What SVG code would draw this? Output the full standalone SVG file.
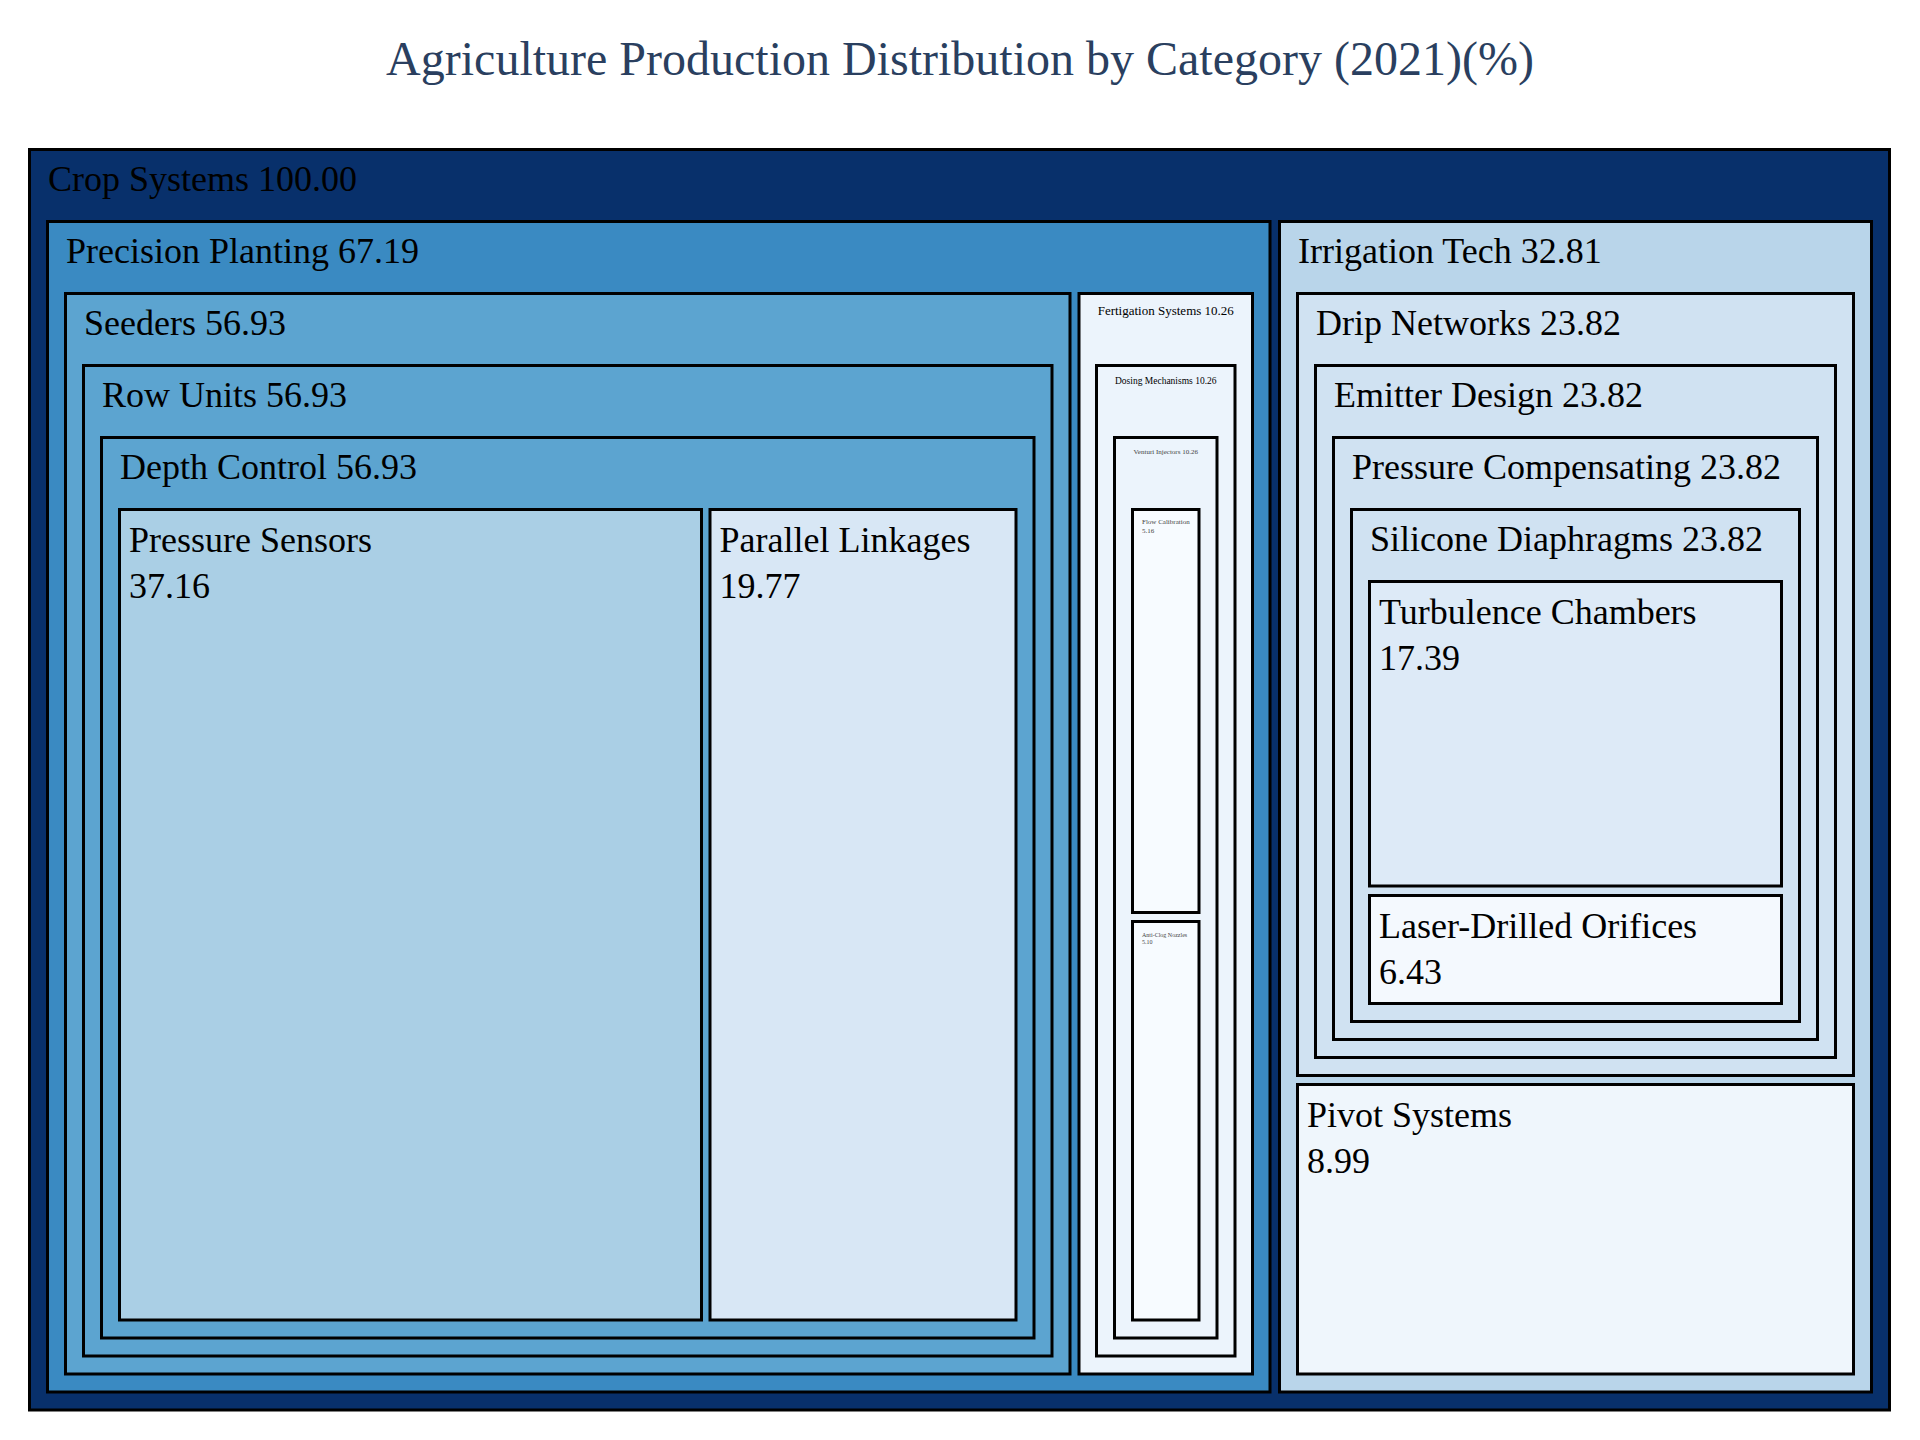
<svg xmlns="http://www.w3.org/2000/svg" width="1920" height="1440" viewBox="0 0 1920 1440">
<style>
  rect.n { stroke: #000; stroke-width: 3; }
  text { font-family: "Liberation Serif", "Times New Roman", serif; fill: #000; }
  .t36 { font-size: 36px; }
  .t13 { font-size: 13px; text-anchor: middle; }
  .t9 { font-size: 9.5px; text-anchor: middle; }
  .t7 { font-size: 7px; fill: #444; }
  .t7c { font-size: 7px; fill: #444; text-anchor: middle; }
  .t6 { font-size: 6px; fill: #444; }
  .title { font-size: 48px; fill: #2a3f5f; text-anchor: middle; }
</style>
<rect x="0" y="0" width="1920" height="1440" fill="#ffffff"/>
<text class="title" x="960" y="74.5">Agriculture Production Distribution by Category (2021)(%)</text>

<g id="crop-systems">
  <rect class="n" x="29.5" y="149.5" width="1860" height="1260.5" fill="#08306b"/>
  <text class="t36" x="48" y="191">Crop Systems 100.00</text>
</g>
<g id="precision-planting">
  <rect class="n" x="47.5" y="221.5" width="1222.5" height="1170.5" fill="#3a8ac2"/>
  <text class="t36" x="66" y="263">Precision Planting 67.19</text>
</g>
<g id="seeders">
  <rect class="n" x="65.5" y="293.5" width="1004.5" height="1080.5" fill="#5ca4d0"/>
  <text class="t36" x="84" y="335">Seeders 56.93</text>
</g>
<g id="row-units">
  <rect class="n" x="83.5" y="365.5" width="968.5" height="990.5" fill="#5ca4d0"/>
  <text class="t36" x="102" y="407">Row Units 56.93</text>
</g>
<g id="depth-control">
  <rect class="n" x="101.5" y="437.5" width="932.5" height="900.5" fill="#5ca4d0"/>
  <text class="t36" x="120" y="479">Depth Control 56.93</text>
</g>
<g id="pressure-sensors">
  <rect class="n" x="119.5" y="509.5" width="582" height="810.5" fill="#aacfe5"/>
  <text class="t36" x="129" y="551.5">Pressure Sensors</text>
  <text class="t36" x="129" y="598">37.16</text>
</g>
<g id="parallel-linkages">
  <rect class="n" x="710" y="509.5" width="306" height="810.5" fill="#d8e7f5"/>
  <text class="t36" x="719.5" y="551.5">Parallel Linkages</text>
  <text class="t36" x="719.5" y="598">19.77</text>
</g>

<g id="fertigation-systems">
  <rect class="n" x="1079" y="293.5" width="173.5" height="1080.5" fill="#ecf4fc"/>
  <text class="t13" x="1165.75" y="314.5">Fertigation Systems 10.26</text>
</g>
<g id="dosing-mechanisms">
  <rect class="n" x="1096.5" y="365.5" width="138.5" height="990.5" fill="#ecf4fc"/>
  <text class="t9" x="1165.75" y="384">Dosing Mechanisms 10.26</text>
</g>
<g id="venturi-injectors">
  <rect class="n" x="1114.5" y="437.5" width="102.5" height="900.5" fill="#ecf4fc"/>
  <text class="t7c" x="1165.75" y="454">Venturi Injectors 10.26</text>
</g>
<g id="flow-calibration">
  <rect class="n" x="1132.5" y="509.5" width="66.5" height="403" fill="#f7fbff"/>
  <text class="t7" x="1142" y="524.3">Flow Calibration</text>
  <text class="t7" x="1142" y="533.3">5.16</text>
</g>
<g id="anti-clog-nozzles">
  <rect class="n" x="1132.5" y="921.5" width="66.5" height="398.5" fill="#f7fbff"/>
  <text class="t6" x="1142" y="936.7">Anti-Clog Nozzles</text>
  <text class="t6" x="1142" y="944">5.10</text>
</g>

<g id="irrigation-tech">
  <rect class="n" x="1279.5" y="221.5" width="592" height="1170.5" fill="#b9d5ea"/>
  <text class="t36" x="1298" y="263">Irrigation Tech 32.81</text>
</g>
<g id="drip-networks">
  <rect class="n" x="1297.5" y="293.5" width="556" height="782" fill="#d0e2f2"/>
  <text class="t36" x="1316" y="335">Drip Networks 23.82</text>
</g>
<g id="emitter-design">
  <rect class="n" x="1315.5" y="365.5" width="520" height="692" fill="#d0e2f2"/>
  <text class="t36" x="1334" y="407">Emitter Design 23.82</text>
</g>
<g id="pressure-compensating">
  <rect class="n" x="1333.5" y="437.5" width="484" height="602" fill="#d0e2f2"/>
  <text class="t36" x="1352" y="479">Pressure Compensating 23.82</text>
</g>
<g id="silicone-diaphragms">
  <rect class="n" x="1351.5" y="509.5" width="448" height="512" fill="#d0e2f2"/>
  <text class="t36" x="1370" y="551">Silicone Diaphragms 23.82</text>
</g>
<g id="turbulence-chambers">
  <rect class="n" x="1369.5" y="581.5" width="412" height="304.5" fill="#ddeaf7"/>
  <text class="t36" x="1379" y="623.5">Turbulence Chambers</text>
  <text class="t36" x="1379" y="670">17.39</text>
</g>
<g id="laser-drilled-orifices">
  <rect class="n" x="1369.5" y="895.5" width="412" height="108" fill="#f4f9fe"/>
  <text class="t36" x="1379" y="937.5">Laser-Drilled Orifices</text>
  <text class="t36" x="1379" y="983.5">6.43</text>
</g>
<g id="pivot-systems">
  <rect class="n" x="1297.5" y="1084.5" width="556" height="289.5" fill="#eff6fc"/>
  <text class="t36" x="1307" y="1126.5">Pivot Systems</text>
  <text class="t36" x="1307" y="1173">8.99</text>
</g>
</svg>
